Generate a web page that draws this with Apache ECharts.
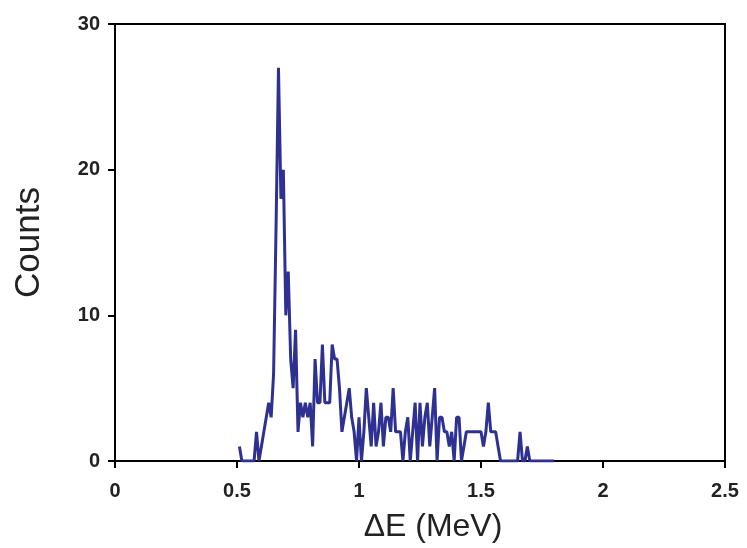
<!DOCTYPE html>
<html>
<head>
<meta charset="utf-8">
<script src="https://cdn.jsdelivr.net/npm/echarts@6/dist/echarts.min.js"></script>
<style>
html,body{margin:0;padding:0;background:#fff;}
#chart{width:747px;height:548px;}
</style>
</head>
<body>
<div id="chart"></div>
<script>
// Energy bins (MeV)
var energies = [
  0.51,0.52,0.53,0.54,0.55,0.56,0.57,0.58,0.59,0.60,
  0.61,0.62,0.63,0.64,0.65,0.66,0.67,0.68,0.69,0.70,
  0.71,0.72,0.73,0.74,0.75,0.76,0.77,0.78,0.79,0.80,
  0.81,0.82,0.83,0.84,0.85,0.86,0.87,0.88,0.89,0.90,
  0.91,0.92,0.93,0.94,0.95,0.96,0.97,0.98,0.99,1.00,
  1.01,1.02,1.03,1.04,1.05,1.06,1.07,1.08,1.09,1.10,
  1.11,1.12,1.13,1.14,1.15,1.16,1.17,1.18,1.19,1.20,
  1.21,1.22,1.23,1.24,1.25,1.26,1.27,1.28,1.29,1.30,
  1.31,1.32,1.33,1.34,1.35,1.36,1.37,1.38,1.39,1.40,
  1.41,1.42,1.43,1.44,1.45,1.46,1.47,1.48,1.49,1.50,
  1.51,1.52,1.53,1.54,1.55,1.56,1.57,1.58,1.59,1.60,
  1.61,1.62,1.63,1.64,1.65,1.66,1.67,1.68,1.69,1.70,
  1.71,1.72,1.73,1.74,1.75,1.76,1.77,1.78,1.79,1.80
];
// Counts per bin
var counts = [
  1,0,0,0,0,0,0,2,0,1,
  2,3,4,3,6,16,27,18,20,10,
  13,7,5,9,2,4,3,4,3,4,
  1,7,4,4,8,4,4,4,8,7,
  7,5,2,3,4,5,3,2,0,3,
  0,2,5,3,1,4,1,2,4,1,
  3,3,2,5,2,2,2,0,2,3,
  0,2,4,0,4,1,3,4,1,3,
  5,0,3,3,2,2,1,2,0,3,
  3,0,1,2,2,2,2,2,2,2,
  1,2,4,2,2,2,1,0,0,0,
  0,0,0,0,0,2,0,0,1,0,
  0,0,0,0,0,0,0,0,0,0
];
var xTicks = [0, 0.5, 1, 1.5, 2, 2.5];
var yTicks = [0, 10, 20, 30];

var seriesData = energies.map(function(e, i){ return [e, counts[i]]; });

var labelFont = {
  color: '#222',
  fontFamily: '"Liberation Sans Narrow", "Arial Narrow", "Liberation Sans", Arial, sans-serif',
  fontWeight: 'bold',
  fontSize: 20
};

var chart = echarts.init(document.getElementById('chart'), null, {renderer: 'canvas'});
chart.setOption({
  animation: false,
  backgroundColor: '#fff',
  grid: {
    left: 115, right: 22, top: 24, bottom: 86,
    show: true, borderColor: '#000', borderWidth: 2, backgroundColor: 'transparent'
  },
  xAxis: {
    type: 'value',
    min: xTicks[0], max: xTicks[xTicks.length-1], interval: 0.5,
    name: 'ΔE (MeV)',
    nameLocation: 'middle',
    nameGap: 50,
    nameTextStyle: {color: '#222', fontFamily: '"Liberation Sans", Arial, sans-serif', fontSize: 32, padding: [0, 0, 0, 26]},
    axisLine: {show: true, onZero: false, lineStyle: {color: '#000', width: 2}},
    axisTick: {show: true, inside: false, length: 7, lineStyle: {color: '#000', width: 2}},
    axisLabel: Object.assign({margin: 20}, labelFont),
    splitLine: {show: false}
  },
  yAxis: {
    type: 'value',
    min: yTicks[0], max: yTicks[yTicks.length-1], interval: 10,
    name: 'Counts',
    nameLocation: 'middle',
    nameGap: 68,
    nameRotate: 90,
    nameTextStyle: {color: '#222', fontFamily: '"Liberation Sans", Arial, sans-serif', fontSize: 35},
    axisLine: {show: true, lineStyle: {color: '#000', width: 2}},
    axisTick: {show: true, inside: false, length: 7, lineStyle: {color: '#000', width: 2}},
    axisLabel: Object.assign({margin: 15}, labelFont),
    splitLine: {show: false}
  },
  series: [{
    type: 'line',
    data: seriesData,
    showSymbol: false,
    symbol: 'none',
    lineStyle: {color: '#2E3192', width: 3},
    z: 3
  }]
});
</script>
</body>
</html>
